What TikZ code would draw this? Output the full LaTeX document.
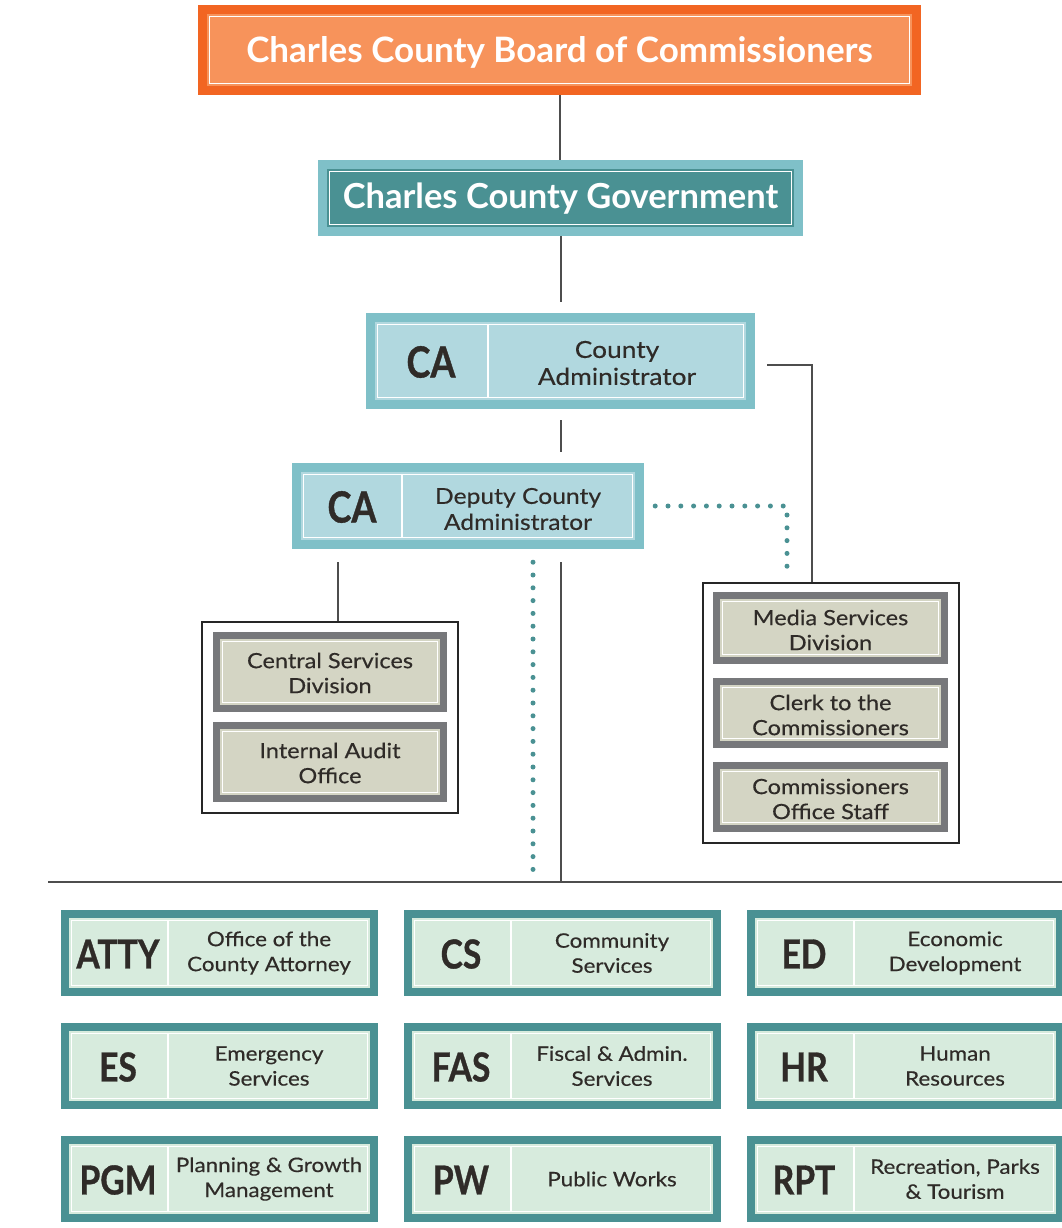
\documentclass[tikz,border=0pt]{standalone}
\usepackage{fontspec}
\setmainfont{Lato}
\newfontfamily\abbrfont{Lato}[FakeStretch=0.84,FakeBold=0.8]
\newfontfamily\bodyfont{Lato}[FakeStretch=1.12,FakeBold=0.35]
\usetikzlibrary{fit,calc}
\definecolor{orband}{HTML}{F26522}
\definecolor{orfill}{HTML}{F7935B}
\definecolor{ltband}{HTML}{7FC0C8}
\definecolor{dkteal}{HTML}{4A9193}
\definecolor{cafill}{HTML}{B1D8DF}
\definecolor{grband}{HTML}{77787B}
\definecolor{grfill}{HTML}{D4D5C4}
\definecolor{btfill}{HTML}{D7EBDD}
\definecolor{lncol}{HTML}{4D4D4D}
\definecolor{txcol}{HTML}{2F2B28}
\newcommand\obox[8]{%
  \fill[#6] (#2,#3) rectangle (#4,#5);
  \fill[#7] ({#2+#8},{#3+#8}) rectangle ({#4-#8},{#5-#8});
  \draw[white,line width=1.5pt] ({#2+#8+2.5},{#3+#8+2.5}) rectangle ({#4-#8-2.5},{#5-#8-2.5});
  \path (#2,#3) coordinate (#1-nw) (#4,#5) coordinate (#1-se);
  \node[fit=(#1-nw)(#1-se),inner sep=0pt] (#1) {};
}
% bottom department box: name, x1, y1, abbr, text
\newcommand\dbox[5]{%
  \obox{#1}{#2}{#3}{#2+317}{#3+86}{dkteal}{btfill}{8}
  \draw[white,line width=1.5pt] ({#2+107},{#3+10.5}) -- ({#2+107},{#3+75.5});
  \node[abbr] (#1-a) at ({#2+57},{#3+44}) {#4};
  \node[body] (#1-t) at ({#2+208},{#3+43}) {#5};
}
\tikzset{
  conn/.style={draw=lncol,line width=2pt},
  dotline/.style={draw=dkteal,line width=5pt,line cap=round,dash pattern=on 0pt off 12.8pt},
  grp/.style={draw=black!85,line width=1.4pt},
  abbr/.style={text=txcol,font=\abbrfont\bfseries\fontsize{40}{44}\selectfont,inner sep=0pt},
  body/.style={text=txcol,align=center,inner sep=0pt,font=\bodyfont\fontsize{20}{25}\selectfont},
}
\begin{document}
\begin{tikzpicture}[x=1pt,y=-1pt]
\useasboundingbox (0,0) rectangle (1062,1228);
% board
\obox{board}{198}{5}{921}{95}{orband}{orfill}{9}
\node[text=white,font=\bfseries\fontsize{35}{40}\selectfont] (board-t) at (559.5,52) {Charles County Board of Commissioners};
% government
\obox{gov}{318}{160}{803}{236}{ltband}{dkteal}{9}
\node[text=white,font=\bfseries\fontsize{34.5}{38}\selectfont] (gov-t) at (560.5,199) {Charles County Government};
% county administrator
\obox{ca}{366}{313}{755}{409}{ltband}{cafill}{9}
\draw[white,line width=1.5pt] (488,324.5) -- (488,397.5);
\node[abbr,font=\abbrfont\bfseries\fontsize{43}{46}\selectfont] (ca-a) at (431,362) {CA};
\node[body,font=\bodyfont\fontsize{23.5}{27}\selectfont] (ca-t) at (617,363) {County\\Administrator};
% deputy
\obox{dep}{292}{463}{644}{549}{ltband}{cafill}{9}
\draw[white,line width=1.5pt] (402,474.5) -- (402,537.5);
\node[abbr,font=\abbrfont\bfseries\fontsize{43}{46}\selectfont] (dep-a) at (352,507) {CA};
\node[body,font=\bodyfont\fontsize{22}{26}\selectfont] (dep-t) at (518,509) {Deputy County\\Administrator};
% left group
\path (202,622) coordinate (lg-nw) (458,813) coordinate (lg-se);
\node[fit=(lg-nw)(lg-se),inner sep=0pt,grp] (lg) {};
\obox{lg1}{213}{632}{447}{712}{grband}{grfill}{7}
\node[body,font=\bodyfont\fontsize{21}{25}\selectfont] (lg1-t) at (330,673) {Central Services\\Division};
\obox{lg2}{213}{722}{447}{802}{grband}{grfill}{7}
\node[body,font=\bodyfont\fontsize{21}{25}\selectfont] (lg2-t) at (330,763) {Internal Audit\\Office};
% right group
\path (703,583) coordinate (rg-nw) (959,843) coordinate (rg-se);
\node[fit=(rg-nw)(rg-se),inner sep=0pt,grp] (rg) {};
\obox{rg1}{713}{592}{948}{664}{grband}{grfill}{7}
\node[body,font=\bodyfont\fontsize{21}{25}\selectfont] (rg1-t) at (830.5,630) {Media Services\\Division};
\obox{rg2}{713}{678}{948}{748}{grband}{grfill}{7}
\node[body,font=\bodyfont\fontsize{21}{25}\selectfont] (rg2-t) at (830.5,715) {Clerk to the\\Commissioners};
\obox{rg3}{713}{762}{948}{832}{grband}{grfill}{7}
\node[body,font=\bodyfont\fontsize{21}{25}\selectfont] (rg3-t) at (830.5,799) {Commissioners\\Office Staff};
% connectors
\coordinate (busL) at (48,882);
\coordinate (busR) at (1062,882);
\draw[conn] (busL) -- (busR);
\draw[conn] (board.south) -- (board.south |- gov.north);
\draw[conn,shorten >=11pt] (gov.south) -- (gov.south |- ca.north);
\draw[conn,shorten <=11pt,shorten >=11pt] (ca.south) -- (ca.south |- dep.north);
\draw[conn,shorten <=12pt] ([yshift=-4pt]ca.east) -| ([xshift=-19pt]rg.north);
\draw[conn,shorten <=13pt] (ca.south |- dep.south) -- (ca.south |- busL);
\draw[conn,shorten <=13pt] ([xshift=8pt]lg.north |- dep.south) -- ([xshift=8pt]lg.north);
\draw[dotline,shorten <=11pt] (dep.east) -| ([xshift=-44pt,yshift=5pt]rg.north);
\draw[dotline,shorten <=13pt,shorten >=10pt] ([xshift=65pt]dep.south) -- ([xshift=65pt]dep.south |- busL);
% departments
\dbox{atty}{61}{910}{ATTY}{Office of the\\County Attorney}
\dbox{cs}{404}{910}{CS}{Community\\Services}
\dbox{ed}{747}{910}{ED}{Economic\\Development}
\dbox{es}{61}{1023}{ES}{Emergency\\Services}
\dbox{fas}{404}{1023}{FAS}{Fiscal \& Admin.\\Services}
\dbox{hr}{747}{1023}{HR}{Human\\Resources}
\dbox{pgm}{61}{1136}{PGM}{Planning \& Growth\\Management}
\dbox{pw}{404}{1136}{PW}{Public Works}
\dbox{rpt}{747}{1136}{RPT}{Recreation, Parks\\\& Tourism}
\end{tikzpicture}
\end{document}
